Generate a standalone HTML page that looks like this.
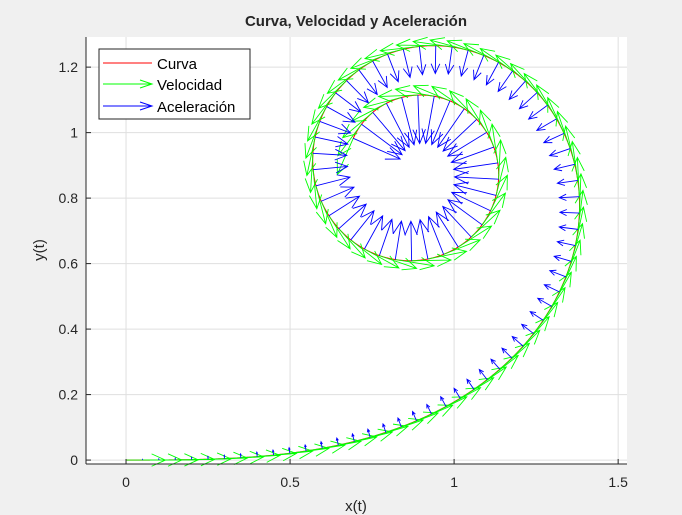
<!DOCTYPE html>
<html><head><meta charset="utf-8"><style>
body{margin:0;background:#f0f0f0;}
svg{display:block;font-family:"Liberation Sans",Arial,sans-serif;}
</style></head><body>
<svg id="c" width="682" height="515">
<rect x="86" y="37" width="541" height="427" fill="#fff"/>
<g id="grid"></g>
<g id="marks"></g>
<g id="axes"></g>
<text x="356" y="26" text-anchor="middle" font-size="15" font-weight="bold" fill="#262626">Curva, Velocidad y Aceleración</text>
<text x="356" y="511" text-anchor="middle" font-size="15" fill="#262626">x(t)</text>
<text transform="translate(44,250) rotate(-90)" text-anchor="middle" font-size="15" fill="#262626">y(t)</text>
<g>
<rect x="99" y="49" width="151" height="70" fill="#fff" stroke="#262626" stroke-width="1"/>
<line x1="103" y1="63" x2="152" y2="63" stroke="#f00"/>
<text x="157" y="69" font-size="15" fill="#000">Curva</text>
<line x1="103" y1="84" x2="152" y2="84" stroke="#0f0"/><path d="M140,80 L152,84 L140,88" fill="none" stroke="#0f0"/>
<text x="157" y="90" font-size="15" fill="#000">Velocidad</text>
<line x1="103" y1="106" x2="152" y2="106" stroke="#00f"/><path d="M140,102 L152,106 L140,110" fill="none" stroke="#00f"/>
<text x="157" y="112" font-size="15" fill="#000">Aceleración</text>
</g>
</svg>
<script>
const xTicks=[0,0.5,1,1.5];
const yTicks=[0,0.2,0.4,0.6,0.8,1,1.2];
const xTickLabels=["0","0.5","1","1.5"];
const yTickLabels=["0","0.2","0.4","0.6","0.8","1","1.2"];
const tStart=0, tEnd=4.6, tStep=0.05;
const velScale=0.12, accScale=0.034;
const X0=-0.122,X1=1.527,Y0=-0.012,Y1=1.292;
const L=86,R=627,T=37,B=464;
const sx=v=>L+(v-X0)/(X1-X0)*(R-L);
const sy=v=>B-(v-Y0)/(Y1-Y0)*(B-T);
const NS='http://www.w3.org/2000/svg';
function mk(tag,at,parent){const e=document.createElementNS(NS,tag);for(const k in at)e.setAttribute(k,at[k]);parent.appendChild(e);return e;}
const grid=document.getElementById('grid'),axes=document.getElementById('axes'),marks=document.getElementById('marks');
xTicks.forEach((v,i)=>{const g=mk('line',{x1:sx(v),x2:sx(v),y1:T,y2:B,stroke:'#dfdfdf'},grid);

mk('line',{x1:sx(v),x2:sx(v),y1:B,y2:B-5,stroke:'#262626'},axes);
const t=mk('text',{x:sx(v),y:B+23,'text-anchor':'middle','font-size':14,fill:'#262626'},axes);t.textContent=xTickLabels[i];
});
yTicks.forEach((v,i)=>{const g=mk('line',{x1:L,x2:R,y1:sy(v),y2:sy(v),stroke:'#dfdfdf'},grid);

mk('line',{x1:L,x2:L+5,y1:sy(v),y2:sy(v),stroke:'#262626'},axes);
const t=mk('text',{x:L-8,y:sy(v)+5,'text-anchor':'end','font-size':14,fill:'#262626'},axes);t.textContent=yTickLabels[i];
});
mk('line',{x1:L,x2:R,y1:B,y2:B,stroke:'#262626'},axes);
mk('line',{x1:L,x2:L,y1:T,y2:B,stroke:'#262626'},axes);
const pts=[];let x=0,y=0,t=tStart;const h=0.001;
pts.push([0,0,0]);
while(t<tEnd-1e-9){const a=t*t/2,m=(t+h/2)*(t+h/2)/2,b=(t+h)*(t+h)/2;
x+=h/6*(Math.cos(a)+4*Math.cos(m)+Math.cos(b));y+=h/6*(Math.sin(a)+4*Math.sin(m)+Math.sin(b));t+=h;pts.push([t,x,y]);}
let d='';pts.forEach((p,i)=>{d+=(i?'L':'M')+sx(p[1]).toFixed(1)+','+sy(p[2]).toFixed(1);});
const curve=mk('path',{d:d,fill:'none',stroke:'#f00','stroke-width':1},marks);

function arrow(x0,y0,dx,dy,col,name){const x1=sx(x0),y1=sy(y0),x2=sx(x0+dx),y2=sy(y0+dy);
const len=Math.hypot(x2-x1,y2-y1);if(len<0.3)return;const ux=(x2-x1)/len,uy=(y2-y1)/len;const hl=Math.min(14,len*0.35),hw=hl*0.45;
const p='M'+x1+','+y1+'L'+x2+','+y2+'M'+(x2-ux*hl-uy*hw)+','+(y2-uy*hl+ux*hw)+'L'+x2+','+y2+'L'+(x2-ux*hl+uy*hw)+','+(y2-uy*hl-ux*hw);
const e=mk('path',{d:p,fill:'none',stroke:col,'stroke-width':0.9},marks);
}
const stepN=Math.round(tStep/h);
for(let i=0;i<pts.length;i+=stepN){const [tt,px,py]=pts[i];const a=tt*tt/2;
arrow(px,py,velScale*Math.cos(a),velScale*Math.sin(a),'#0f0','velocity-arrow');}
for(let i=0;i<pts.length;i+=stepN){const [tt,px,py]=pts[i];const a=tt*tt/2;
arrow(px,py,-accScale*tt*Math.sin(a),accScale*tt*Math.cos(a),'#00f','acceleration-arrow');}
</script>
</body></html>
